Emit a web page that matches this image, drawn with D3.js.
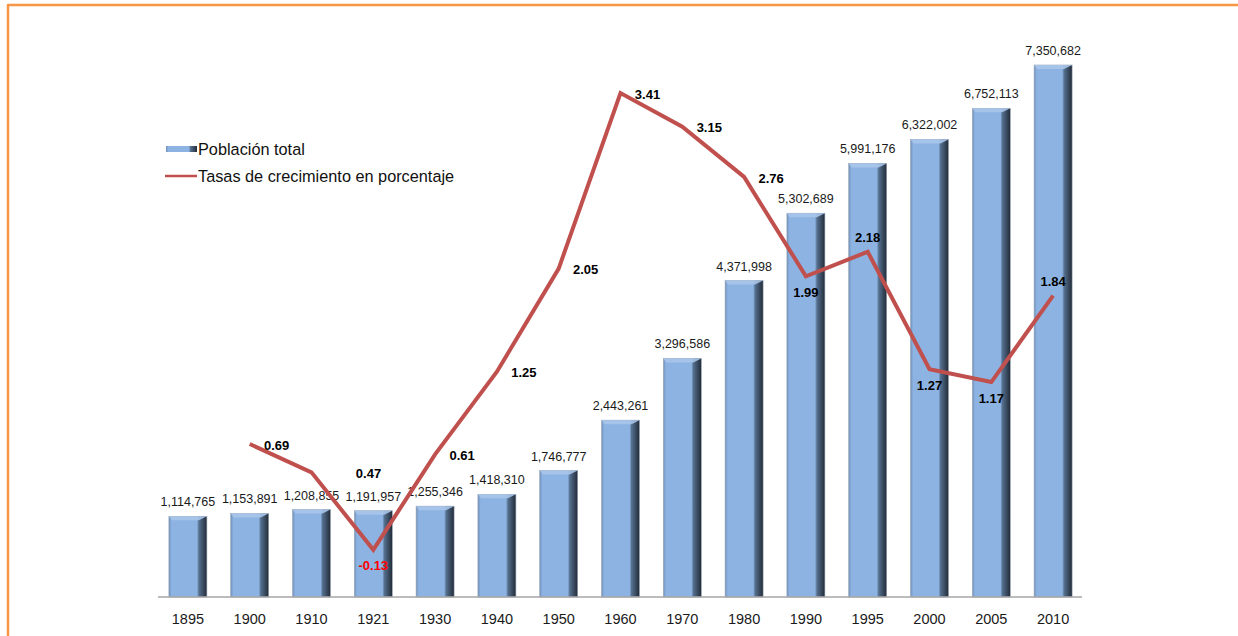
<html>
	<head>
		<meta charset="utf-8">
		<title>Población total y tasas de crecimiento</title>
		<script src="https://d3js.org/d3.v7.min.js"></script>
		<style>
			body { margin: 0; background: #fff; font-family: "Liberation Sans", Arial, sans-serif; }
			svg { display: block; }
		</style>
	</head>
	<body>
		<div id="chart"></div>

	<script type="text/javascript">
		// data
		var years = ["1895","1900","1910","1921","1930","1940","1950","1960","1970","1980","1990","1995","2000","2005","2010"];
		var population = [1114765, 1153891, 1208855, 1191957, 1255346, 1418310, 1746777, 2443261, 3296586, 4371998, 5302689, 5991176, 6322002, 6752113, 7350682];
		var growth = [null, 0.69, 0.47, -0.13, 0.61, 1.25, 2.05, 3.41, 3.15, 2.76, 1.99, 2.18, 1.27, 1.17, 1.84];
		// where each growth label sits relative to its point
		var growthLabelPlace = [null, "right", "farright", "below", "right", "right", "right", "right", "right", "right", "below", "above", "below", "below", "above"];
		var legendLabels = ["Población total", "Tasas de crecimiento en porcentaje"];

		var width = 1238, height = 636;
		var baseY = 597;

		var svg = d3.select("#chart")
		  .append("svg")
		    .attr("width", width)
		    .attr("height", height);

		// orange frame (top and left)
		svg.append("line").attr("x1", 8).attr("x2", width).attr("y1", 5).attr("y2", 5)
		  .attr("stroke", "#f79646").attr("stroke-width", 2.5);
		svg.append("line").attr("x1", 8).attr("x2", 8).attr("y1", 4).attr("y2", height)
		  .attr("stroke", "#f79646").attr("stroke-width", 2.5);

		// gradients for the bevelled bars
		var defs = svg.append("defs");
		var g1 = defs.append("linearGradient").attr("id", "barFace").attr("x1", "0").attr("x2", "1").attr("y1", "0").attr("y2", "0");
		g1.append("stop").attr("offset", "0%").attr("stop-color", "#6f8fb8");
		g1.append("stop").attr("offset", "7%").attr("stop-color", "#8db3e2");
		g1.append("stop").attr("offset", "74%").attr("stop-color", "#8db3e2");
		g1.append("stop").attr("offset", "79%").attr("stop-color", "#55708f");
		g1.append("stop").attr("offset", "100%").attr("stop-color", "#222b38");

		// scales
		var x = d3.scaleBand()
		  .domain(years)
		  .range([157, 1084])
		  .paddingInner(0.385)
		  .paddingOuter(0.1925);

		var y = d3.scaleLinear()
		  .domain([0, 8000000])
		  .range([baseY, baseY - 579]);

		var y2 = d3.scaleLinear()
		  .domain([0, 4])
		  .range([533, 17]);

		// bars
		var bars = svg.append("g").selectAll("g")
		  .data(years)
		  .enter()
		  .append("g");

		bars.append("rect")
		    .attr("x", function(d) { return x(d); })
		    .attr("y", function(d, i) { return y(population[i]); })
		    .attr("width", x.bandwidth())
		    .attr("height", function(d, i) { return baseY - y(population[i]); })
		    .attr("fill", "url(#barFace)")
		    .attr("stroke", "#9aa6b5")
		    .attr("stroke-width", 0.6);

		// top bevel
		bars.append("path")
		    .attr("d", function(d, i) {
		      var x0 = x(d), x1 = x(d) + x.bandwidth(), t = y(population[i]);
		      return "M" + x0 + "," + t + "L" + x1 + "," + t + "L" + (x1 - 8) + "," + (t + 4) + "L" + (x0 + 3) + "," + (t + 4) + "Z";
		    })
		    .attr("fill", "#a9c5ea")
		    .attr("opacity", 0.9);

		bars.append("text")
		    .attr("x", function(d) { return x(d) + x.bandwidth() / 2; })
		    .attr("y", function(d, i) { return y(population[i]) - 10; })
		    .attr("text-anchor", "middle")
		    .attr("font-size", "12.5px")
		    .attr("fill", "#1a1a1a")
		    .text(function(d, i) { return d3.format(",")(population[i]); });

		// x axis
		svg.append("line")
		  .attr("x1", 158).attr("x2", 1082)
		  .attr("y1", baseY).attr("y2", baseY)
		  .attr("stroke", "#a6a6a6").attr("stroke-width", 1.5);

		svg.append("g").selectAll("text")
		  .data(years)
		  .enter()
		  .append("text")
		    .attr("x", function(d) { return x(d) + x.bandwidth() / 2; })
		    .attr("y", 624)
		    .attr("text-anchor", "middle")
		    .attr("font-size", "14.5px")
		    .attr("fill", "#1a1a1a")
		    .text(function(d) { return d; });

		// growth line
		var linePts = years.map(function(d, i) { return { year: d, v: growth[i], place: growthLabelPlace[i] }; })
		  .filter(function(d) { return d.v !== null; });

		svg.append("path")
		  .datum(linePts)
		  .attr("fill", "none")
		  .attr("stroke", "#c0504d")
		  .attr("stroke-width", 4)
		  .attr("stroke-linejoin", "miter")
		  .attr("d", d3.line()
		    .x(function(d) { return x(d.year) + x.bandwidth() / 2; })
		    .y(function(d) { return y2(d.v); })
		  );

		var offs = {
		  right: [27, 1],
		  farright: [57, 1],
		  below: [0, 16],
		  above: [0, -14]
		};

		svg.append("g").selectAll("text")
		  .data(linePts)
		  .enter()
		  .append("text")
		    .attr("x", function(d) { return x(d.year) + x.bandwidth() / 2 + offs[d.place][0]; })
		    .attr("y", function(d) { return y2(d.v) + offs[d.place][1]; })
		    .attr("dy", "0.35em")
		    .attr("text-anchor", "middle")
		    .attr("font-size", "13px")
		    .attr("font-weight", "bold")
		    .attr("fill", function(d) { return d.v < 0 ? "#ff0000" : "#000"; })
		    .text(function(d) { return d.v.toFixed(2); });

		// legend
		var legend = svg.append("g");
		legend.append("rect")
		  .attr("x", 166).attr("y", 146).attr("width", 31).attr("height", 6)
		  .attr("fill", "url(#barFace)");
		legend.append("line")
		  .attr("x1", 165).attr("x2", 197).attr("y1", 176).attr("y2", 176)
		  .attr("stroke", "#c0504d").attr("stroke-width", 2.5);
		legend.selectAll("text")
		  .data(legendLabels)
		  .enter()
		  .append("text")
		    .attr("x", 198)
		    .attr("y", function(d, i) { return 154.5 + i * 27; })
		    .attr("font-size", "16.3px")
		    .attr("fill", "#111")
		    .text(function(d) { return d; });

	</script>

	</body>
</html>
